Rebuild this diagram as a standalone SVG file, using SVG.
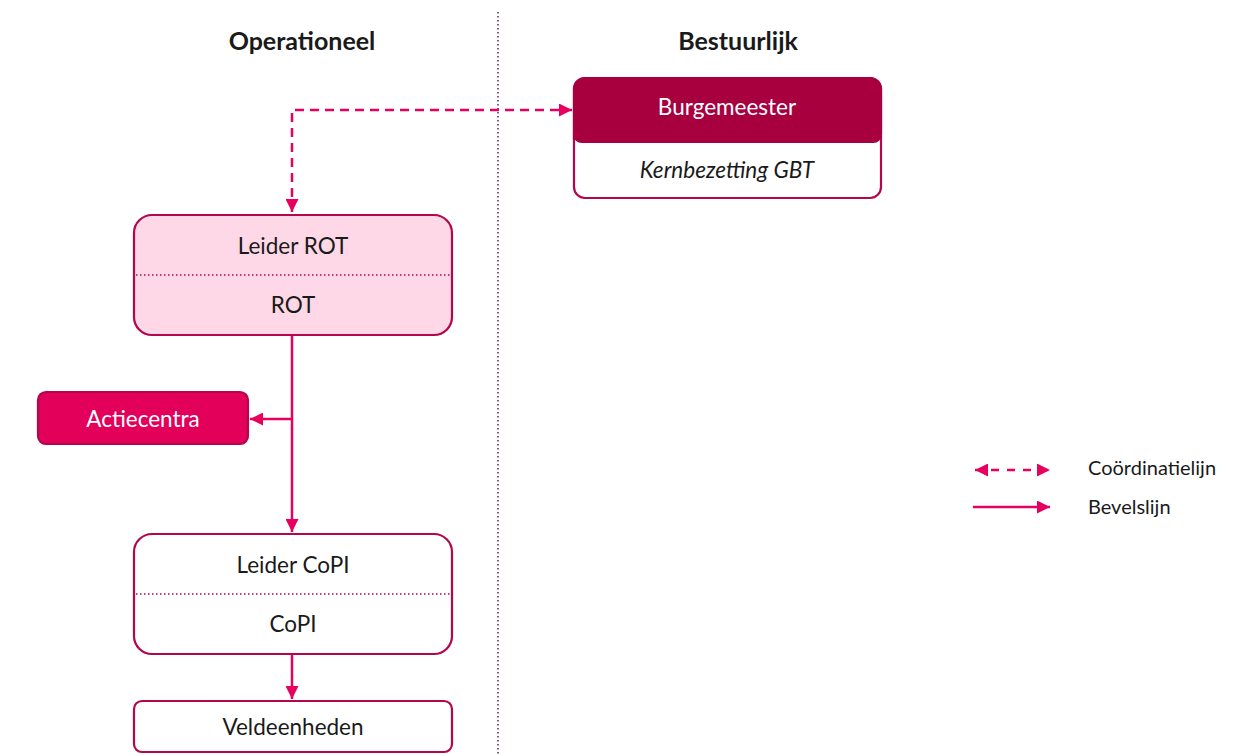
<svg xmlns="http://www.w3.org/2000/svg" width="1235" height="756" viewBox="0 0 1235 756">
<style>
text{font-family:Lato,"Open Sans",sans-serif;fill:#1a1a1a;text-anchor:middle}
.h{font-weight:bold;font-size:25px}
.t{font-size:22.5px}
.lg{font-size:20px;text-anchor:start}
.box{stroke:#b3064d;stroke-width:2.2}
.div{stroke:#b3064d;stroke-width:1.5;stroke-dasharray:1.5 2.5}
.con{stroke:#e8005f;stroke-width:2.5;fill:none}
.dash{stroke-dasharray:9 6}
</style>
<defs>
<marker id="ah" viewBox="0 0 10 10" refX="10" refY="5" markerWidth="13" markerHeight="13" markerUnits="userSpaceOnUse" orient="auto-start-reverse">
<path d="M0,0 L10,5 L0,10 z" fill="#e8005f"/>
</marker>
</defs>
<line x1="498" y1="12" x2="498" y2="756" stroke="#5a2a5a" stroke-width="1.5" stroke-dasharray="1.5 2.5"/>
<text class="h" x="302" y="50">Operationeel</text>
<text class="h" x="738" y="50">Bestuurlijk</text>
<g id="connectors">
<polyline class="con dash" points="292,212 292,110 572,110" marker-start="url(#ah)" marker-end="url(#ah)"/>
<line class="con" x1="292" y1="336" x2="292" y2="532" marker-end="url(#ah)"/>
<line class="con" x1="292" y1="419" x2="250" y2="419" marker-end="url(#ah)"/>
<line class="con" x1="292" y1="655" x2="292" y2="699" marker-end="url(#ah)"/>
</g>
<g id="burgemeester">
<rect class="box" x="574" y="78" width="307" height="120" rx="11" fill="#fff"/>
<path d="M574,140 V89 a11,11 0 0 1 11,-11 H870 a11,11 0 0 1 11,11 V134 a8,8 0 0 1 -8,8 H582 a8,8 0 0 1 -8,-8 z" fill="#a8003f" stroke="#a8003f" stroke-width="2.2"/>
<text class="t" x="727" y="115" style="fill:#fff">Burgemeester</text>
<text class="t" x="727" y="178" font-style="italic">Kernbezetting GBT</text>
</g>
<g id="rot">
<rect class="box" x="134" y="215" width="318" height="120" rx="18" fill="#fed8e6"/>
<line class="div" x1="136" y1="275" x2="450" y2="275"/>
<text class="t" x="293" y="254">Leider ROT</text>
<text class="t" x="293" y="313">ROT</text>
</g>
<g id="actiecentra">
<rect class="box" x="38" y="392" width="210" height="52" rx="8" fill="#e2005a"/>
<text class="t" x="143" y="427" style="fill:#fff">Actiecentra</text>
</g>
<g id="copi">
<rect class="box" x="134" y="534" width="318" height="120" rx="18" fill="#fff"/>
<line class="div" x1="136" y1="594" x2="450" y2="594"/>
<text class="t" x="293" y="573">Leider CoPI</text>
<text class="t" x="293" y="632">CoPI</text>
</g>
<g id="veldeenheden">
<rect class="box" x="134" y="701" width="318" height="51" rx="8" fill="#fff"/>
<text class="t" x="293" y="735">Veldeenheden</text>
</g>
<g id="legend">
<line class="con" x1="975" y1="470" x2="1050" y2="470" stroke-dasharray="8 8" marker-start="url(#ah)" marker-end="url(#ah)"/>
<line class="con" x1="973" y1="507" x2="1050" y2="507" marker-end="url(#ah)"/>
<text class="lg" x="1088" y="475">Coördinatielijn</text>
<text class="lg" x="1088" y="514">Bevelslijn</text>
</g>
</svg>
